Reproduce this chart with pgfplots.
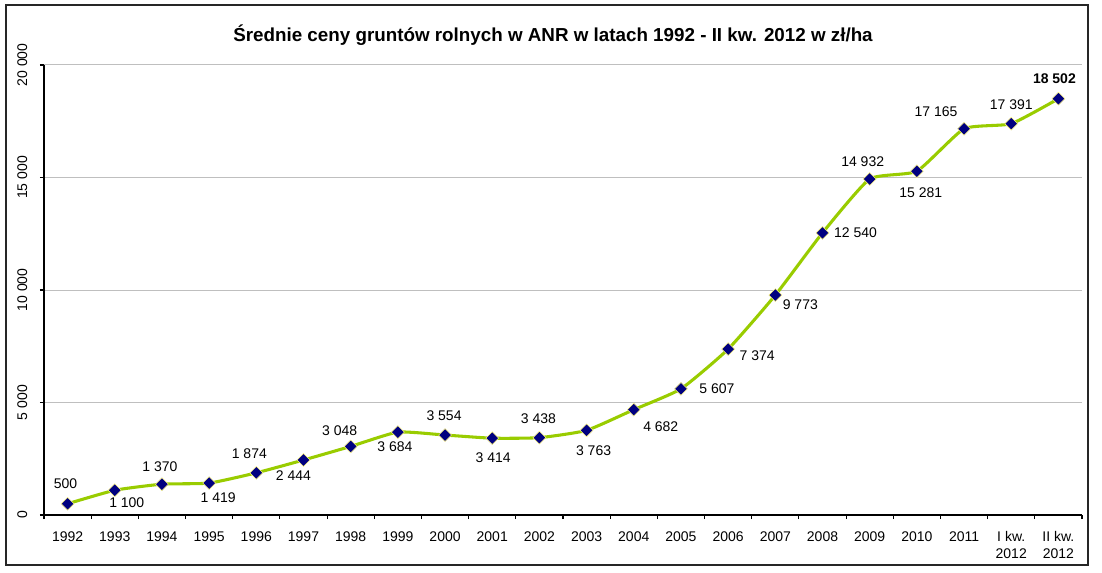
\documentclass[border=0pt]{standalone}
\usepackage{fontspec}
\setmainfont{Liberation Sans}
\usepackage{pgfplots}
\usepackage{pgfplotstable}
\pgfplotsset{compat=1.18}

\definecolor{linegreen}{RGB}{153,204,0}
\definecolor{marknavy}{RGB}{0,0,128}
\definecolor{gridgray}{RGB}{191,191,191}

% data label: offset of its centre from the point in px (dx right, dy up), then text
\protected\def\lbl#1#2#3{\raisebox{\dimexpr #2pt*3/4-3.8pt\relax}[0pt][0pt]{\makebox[0pt]{\kern\dimexpr #1pt*3/2\relax #3}}}

\pgfplotstableread{
x  y      lab
0  500    {\lbl{-2}{20}{500}}
1  1100   {\lbl{12}{-12}{1 100}}
2  1370   {\lbl{-2}{18}{1 370}}
3  1419   {\lbl{9}{-14}{1 419}}
4  1874   {\lbl{-7}{19}{1 874}}
5  2444   {\lbl{-10}{-15}{2 444}}
6  3048   {\lbl{-11}{16}{3 048}}
7  3684   {\lbl{-3}{-14}{3 684}}
8  3554   {\lbl{-1}{20}{3 554}}
9  3414   {\lbl{1}{-19}{3 414}}
10 3438   {\lbl{-1}{19}{3 438}}
11 3763   {\lbl{7}{-20}{3 763}}
12 4682   {\lbl{27}{-17}{4 682}}
13 5607   {\lbl{36}{0}{5 607}}
14 7374   {\lbl{29}{-6}{7 374}}
15 9773   {\lbl{25}{-9}{9 773}}
16 12540  {\lbl{33}{0}{12 540}}
17 14932  {\lbl{-7}{18}{14 932}}
18 15281  {\lbl{4}{-21}{15 281}}
19 17165  {\lbl{-28}{17}{17 165}}
20 17391  {\lbl{0}{19}{17 391}}
21 18502  {\lbl{-4}{20}{\bfseries 18 502}}
}\ceny

\begin{document}
\begin{tikzpicture}
\begin{axis}[
  scale only axis, width=778.5pt, height=337.5pt,
  xmin=-0.5, xmax=21.5, ymin=0, ymax=20000,
  axis x line*=bottom, axis y line*=left,
  axis line style={black, line width=0.8pt},
  tick align=outside,
  xtick={0,...,21},
  xticklabels={1992,1993,1994,1995,1996,1997,1998,1999,2000,2001,2002,2003,2004,2005,2006,2007,2008,2009,2010,2011,{I kw.\\2012},{II kw.\\2012}},
  major x tick style={draw=none},
  minor xtick={-0.5,0.5,...,21.5},
  minor tick length=3pt, major tick length=3pt,
  tick style={black, line width=0.8pt},
  xticklabel style={align=center, font=\fontsize{10.5}{12.8}\selectfont, anchor=north, yshift=-6pt},
  scaled y ticks=false,
  ytick={0,5000,10000,15000,20000},
  yticklabels={0,{5 000},{10 000},{15 000},{20 000}},
  yticklabel style={rotate=90, anchor=south, yshift=6pt, font=\fontsize{10.5}{12}\selectfont},
  ymajorgrids, grid style={gridgray, line width=0.75pt},
  clip=false,
]
\addplot[
  linegreen, line width=2.3pt, smooth, tension=0.3,
  mark=square*, mark size=3.4pt,
  mark options={rotate=45, fill=marknavy, draw=yellow!50!white, line width=0.4pt, solid},
  point meta=explicit symbolic,
  nodes near coords,
  nodes near coords style={anchor=center, inner sep=0pt, text=black, font=\fontsize{10.5}{12}\selectfont},
] table[x=x, y=y, meta=lab] {\ceny};
\end{axis}
\node[font=\fontsize{14.1}{16}\selectfont\bfseries] at ([xshift=-7.5pt, yshift=22.5pt]current axis.north) {Średnie ceny gruntów rolnych w ANR w latach 1992 - II kw. 2012 w zł/ha};
\draw[line width=0.8pt, black!85] ([shift={(-28.5pt,-37.5pt)}]current axis.south west) rectangle ([shift={(4.5pt,45pt)}]current axis.north east);
\pgfresetboundingbox
\useasboundingbox ([shift={(-33pt,-42.75pt)}]current axis.south west) rectangle ([shift={(15pt,48.75pt)}]current axis.north east);
\end{tikzpicture}
\end{document}
